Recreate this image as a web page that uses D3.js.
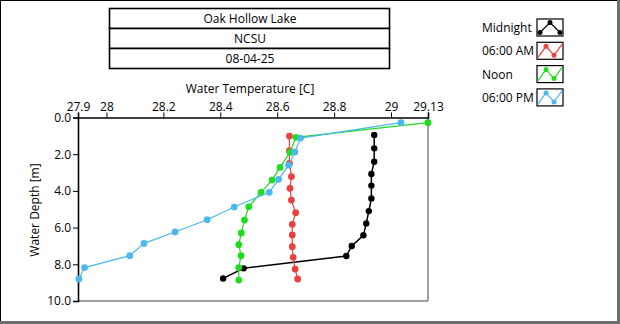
<!DOCTYPE html>
<html><head><meta charset="utf-8">
<script src="https://cdn.jsdelivr.net/npm/d3@7"></script>
<style>
html,body{margin:0;padding:0;background:#fff;}
svg{display:block;font-family:"Open Sans","Noto Sans",sans-serif;}
</style></head>
<body><svg id="c" width="620" height="324"></svg>
<script>
const titleLines = ["Oak Hollow Lake", "NCSU", "08-04-25"];
const xTicks = [27.9, 28, 28.2, 28.4, 28.6, 28.8, 29, 29.13];
const yTicks = [0, 2, 4, 6, 8, 10];
const seriesNames = ["Midnight", "06:00 AM", "Noon", "06:00 PM"];
const seriesColors = ["#000000", "#E8413F", "#1EDC1E", "#4DB8EE"];

const midnightDepth = [0.95,1.68,2.41,3.08,3.71,4.41,5.10,5.77,6.42,7.00,7.55,8.22,8.77];
const midnightTemp  = [28.941,28.941,28.941,28.931,28.931,28.931,28.922,28.913,28.903,28.862,28.843,28.482,28.41];
const amDepth = [1.01,1.81,2.50,3.22,3.86,4.50,5.19,5.82,6.40,7.04,7.62,8.26,8.80];
const amTemp  = [28.643,28.643,28.643,28.65,28.645,28.65,28.665,28.653,28.653,28.653,28.656,28.663,28.672];
const noonDepth = [0.28,1.08,1.90,2.72,3.41,4.08,4.87,5.59,6.29,6.93,7.53,8.18,8.86];
const noonTemp  = [29.13,28.666,28.645,28.61,28.582,28.543,28.50,28.485,28.474,28.465,28.473,28.465,28.465];
const pmDepth = [0.28,1.12,1.88,2.60,3.37,4.08,4.88,5.57,6.24,6.86,7.53,8.18,8.80];
const pmTemp  = [29.035,28.682,28.662,28.640,28.605,28.572,28.449,28.354,28.241,28.132,28.082,27.923,27.903];

const series = [
  {name: seriesNames[0], color: seriesColors[0], depth: midnightDepth, temp: midnightTemp},
  {name: seriesNames[1], color: seriesColors[1], depth: amDepth, temp: amTemp},
  {name: seriesNames[2], color: seriesColors[2], depth: noonDepth, temp: noonTemp},
  {name: seriesNames[3], color: seriesColors[3], depth: pmDepth, temp: pmTemp}
];

const svg = d3.select("#c");
// outer frame
svg.append("rect").attr("x",0).attr("y",0).attr("width",620).attr("height",324).attr("fill","#fff");
svg.append("rect").attr("x",617).attr("y",0).attr("width",3).attr("height",324).attr("fill","#6e6e6e");
svg.append("rect").attr("x",0).attr("y",321).attr("width",620).attr("height",3).attr("fill","#6e6e6e");
svg.append("line").attr("x1",0).attr("y1",0.5).attr("x2",617).attr("y2",0.5).attr("stroke","#000");
svg.append("line").attr("x1",0.5).attr("y1",0).attr("x2",0.5).attr("y2",321).attr("stroke","#000");

// title boxes
const tb = svg.append("g");
titleLines.forEach((t,i)=>{
  const y0 = 8.5 + i*20;
  tb.append("rect").attr("x",109.5).attr("y",y0).attr("width",280).attr("height",20)
    .attr("fill","#fff").attr("stroke","#000").attr("stroke-width",1.6);
  tb.append("text").attr("x",250).attr("y",y0+14.5).attr("text-anchor","middle")
    .attr("font-size",12).attr("fill","#000").text(t);
});

const L=78, R=428, T=117.5, B=301;
const x = d3.scaleLinear().domain([27.9, 29.13]).range([L, R]);
const y = d3.scaleLinear().domain([0, 10]).range([T, B]);

// plot frame
svg.append("rect").attr("x",L).attr("y",T).attr("width",R-L).attr("height",B-T).attr("fill","#fff");
svg.append("line").attr("x1",R).attr("y1",T).attr("x2",R).attr("y2",B).attr("stroke","#808080").attr("stroke-width",1.5);
svg.append("line").attr("x1",L).attr("y1",B).attr("x2",R).attr("y2",B).attr("stroke","#808080").attr("stroke-width",1.5);

const xAxis = d3.axisTop(x).tickValues(xTicks).tickSize(5).tickPadding(2)
  .tickFormat(d=>String(d));
const gx = svg.append("g").attr("transform",`translate(0,${T})`).call(xAxis);
gx.select(".domain").attr("stroke","#000").attr("stroke-width",1.6);
gx.selectAll("text").attr("font-size",12).attr("fill","#000").attr("font-family","'Open Sans','Noto Sans',sans-serif");

const yAxis = d3.axisLeft(y).tickValues(yTicks).tickSize(5).tickPadding(2).tickFormat(d3.format(".1f"));
const gy = svg.append("g").attr("transform",`translate(${L},0)`).call(yAxis);
gy.select(".domain").attr("stroke","#000").attr("stroke-width",1.6);
gy.selectAll("text").attr("font-size",12).attr("fill","#000").attr("font-family","'Open Sans','Noto Sans',sans-serif");

svg.append("text").attr("x",250).attr("y",93).attr("text-anchor","middle").attr("font-size",12)
  .text("Water Temperature [C]");
svg.append("text").attr("transform","translate(39,210) rotate(-90)").attr("text-anchor","middle")
  .attr("font-size",12).text("Water Depth [m]");

// series
const line = d3.line().x(d=>x(d[1])).y(d=>y(d[0]));
const plot = svg.append("g");
series.forEach((s,i)=>{
  const pts = s.depth.map((d,j)=>[d, s.temp[j]]);
  plot.append("path").datum(pts).attr("d",line).attr("fill","none")
    .attr("stroke",s.color).attr("stroke-width", i===0?1.5:1.2);
  plot.selectAll(null).data(pts).enter().append("circle")
    .attr("cx",d=>x(d[1])).attr("cy",d=>y(d[0])).attr("r",i===0?3.2:3.4).attr("fill",s.color);
});

// legend
const lg = svg.append("g");
series.forEach((s,i)=>{
  const cy = 27.5 + i*23.3;
  lg.append("text").attr("x",482).attr("y",cy+4.5).attr("font-size",12).attr("fill","#000").text(s.name);
  const bx=537, by=cy-8.5, bw=26, bh=17;
  lg.append("rect").attr("x",bx).attr("y",by).attr("width",bw).attr("height",bh)
    .attr("fill","#fff").attr("stroke","#000").attr("stroke-width",1.2);
  let gpts;
  if(i===0){
    gpts=[[bx+3,by+bh-3.5],[bx+13,by+3.5],[bx+23,by+bh-3.5]];
  } else {
    gpts=[[bx+1,by+bh-2],[bx+9,by+4],[bx+17,by+bh-4],[bx+25,by+2]];
  }
  lg.append("path").attr("d",d3.line()(gpts)).attr("fill","none").attr("stroke",s.color).attr("stroke-width",1.2);
  const mk = i===0 ? gpts : gpts.slice(1,3);
  lg.selectAll(null).data(mk).enter().append("circle").attr("cx",d=>d[0]).attr("cy",d=>d[1])
    .attr("r",2.5).attr("fill",s.color);
});
</script></body></html>
